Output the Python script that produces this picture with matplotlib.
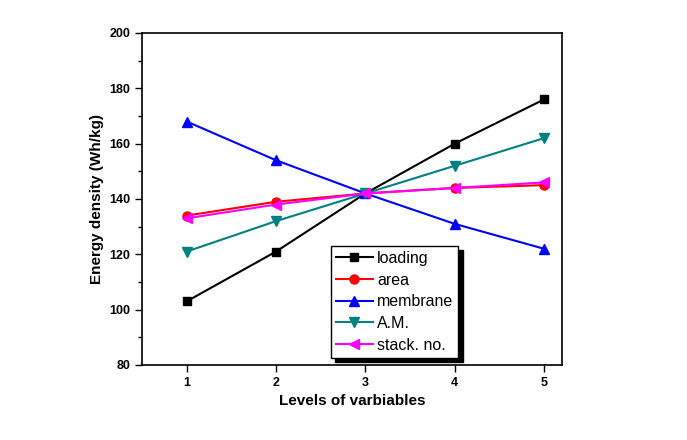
import matplotlib
matplotlib.use('Agg')
import matplotlib.pyplot as plt
from matplotlib.ticker import MultipleLocator

plt.rcParams['font.family'] = ['Liberation Sans', 'DejaVu Sans']

# niveis das variaveis
levels = [1, 2, 3, 4, 5]
loading = [103, 121, 142, 160, 176]
area = [134, 139, 142, 144, 145]
membrane = [168, 154, 142, 131, 122]
am = [121, 132, 142, 152, 162]
stack_no = [133, 138, 142, 144, 146]

fig = plt.figure(figsize=(6.87, 4.4), dpi=100)
ax = fig.add_axes([0.2067, 0.1705, 0.6113, 0.7545])

ax.plot(levels, loading, color='black', marker='s', markersize=5.5, lw=1.5, label='loading')
ax.plot(levels, area, color='red', marker='o', markersize=6.5, lw=1.5, label='area')
ax.plot(levels, membrane, color='blue', marker='^', markersize=7, lw=1.5, label='membrane')
ax.plot(levels, am, color='#008080', marker='v', markersize=7, lw=1.5, label='A.M.')
ax.plot(levels, stack_no, color='magenta', marker='<', markersize=7, lw=1.5, label='stack. no.')

ax.set_xlim(0.5, 5.2)
ax.set_ylim(80, 200)
ax.set_xticks(levels)
ax.yaxis.set_major_locator(MultipleLocator(20))
ax.yaxis.set_minor_locator(MultipleLocator(10))
ax.tick_params(axis='both', which='both', direction='out', labelsize=9, width=1)
ax.tick_params(which='major', length=5)
ax.tick_params(which='minor', length=3)
for lab in ax.get_xticklabels() + ax.get_yticklabels():
    lab.set_fontweight('bold')
for sp in ax.spines.values():
    sp.set_linewidth(1.2)

ax.set_xlabel('Levels of varbiables', fontsize=11, fontweight='bold')
ax.set_ylabel('Energy density (Wh/kg)', fontsize=11, fontweight='bold')

leg = ax.legend(loc='upper left', bbox_to_anchor=(0.45, 0.358), borderaxespad=0,
                fancybox=False, edgecolor='black', framealpha=1, fontsize=11.5,
                handlelength=2.3, handletextpad=0.3, labelspacing=0.42,
                borderpad=0.3,
                shadow={'ox': 3, 'oy': -3, 'facecolor': 'black', 'edgecolor': 'black', 'alpha': 1})
leg.get_frame().set_linewidth(1.0)

plt.savefig('out.png', dpi=100)
